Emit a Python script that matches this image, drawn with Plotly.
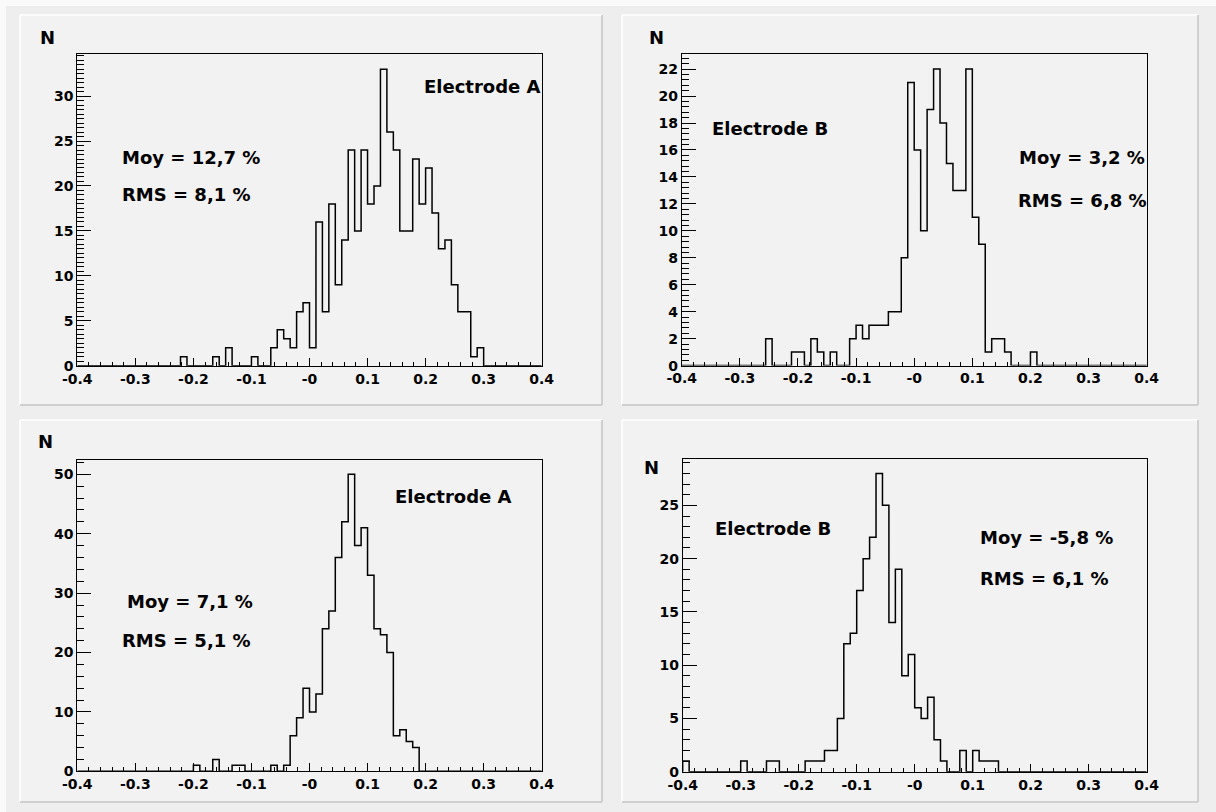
import plotly.graph_objects as go

# ---------------- data ----------------
X_MIN, X_MAX, N_BINS = -0.4, 0.4, 72

counts_top_a = [0, 0, 0, 0, 0, 0, 0, 0, 0, 0, 0, 0,
                0, 0, 0, 0, 1, 0, 0, 0, 0, 1, 0, 2,
                0, 0, 0, 1, 0, 0, 2, 4, 3, 2, 6, 7,
                2, 16, 6, 18, 9, 14, 24, 15, 24, 18, 20, 33,
                26, 24, 15, 15, 23, 18, 22, 17, 13, 14, 9, 6,
                6, 1, 2, 0, 0, 0, 0, 0, 0, 0, 0, 0]

counts_top_b = [0, 0, 0, 0, 0, 0, 0, 0, 0, 0, 0, 0,
                0, 2, 0, 0, 0, 1, 1, 0, 2, 1, 0, 1,
                0, 0, 2, 3, 2, 3, 3, 3, 4, 4, 8, 21,
                16, 10, 19, 22, 18, 15, 13, 13, 22, 11, 9, 1,
                2, 2, 1, 0, 0, 0, 1, 0, 0, 0, 0, 0,
                0, 0, 0, 0, 0, 0, 0, 0, 0, 0, 0, 0]

counts_bot_a = [0, 0, 0, 0, 0, 0, 0, 0, 0, 0, 0, 0,
                0, 0, 0, 0, 0, 0, 1, 0, 0, 2, 0, 0,
                1, 1, 0, 0, 0, 0, 1, 0, 1, 6, 9, 14,
                10, 13, 24, 27, 36, 42, 50, 38, 41, 33, 24, 23,
                20, 6, 7, 5, 4, 0, 0, 0, 0, 0, 0, 0,
                0, 0, 0, 0, 0, 0, 0, 0, 0, 0, 0, 0]

counts_bot_b = [1, 0, 0, 0, 0, 0, 0, 0, 0, 1, 0, 0,
                0, 1, 1, 0, 0, 0, 0, 1, 1, 1, 2, 2,
                5, 12, 13, 17, 20, 22, 28, 25, 14, 19, 9, 11,
                6, 5, 7, 3, 1, 0, 0, 2, 0, 2, 1, 1,
                1, 0, 0, 0, 0, 0, 0, 0, 0, 0, 0, 0,
                0, 0, 0, 0, 0, 0, 0, 0, 0, 0, 0, 0]

x_tick_vals = [-0.4, -0.3, -0.2, -0.1, 0.0, 0.1, 0.2, 0.3, 0.4]
x_tick_text = ["-0.4", "-0.3", "-0.2", "-0.1", "-0", "0.1", "0.2", "0.3", "0.4"]

titles = ["Electrode A", "Electrode B", "Electrode A", "Electrode B"]
moy_texts = ["Moy = 12,7 %", "Moy = 3,2 %", "Moy = 7,1 %", "Moy = -5,8 %"]
rms_texts = ["RMS = 8,1 %", "RMS = 6,8 %", "RMS = 5,1 %", "RMS = 6,1 %"]

# ---------------- layout helpers ----------------
W, H = 1216, 812
FONT = "DejaVu Sans"

def dx(px):
    return px / W

def dy(py):
    return 1 - py / H

panels = [
    dict(counts=counts_top_a, frame=(77.3, 54.3, 541.7, 365.7), ydtick=5, yminor=0.5,
         pad=(20, 15, 602, 405), n=(38, 37.5),
         title=(422, 86), moy=(120, 157), rms=(120, 194)),
    dict(counts=counts_top_b, frame=(681.7, 54.3, 1146.7, 365.6), ydtick=2, yminor=0.4,
         pad=(622, 15, 1198, 405), n=(647, 37.5),
         title=(710, 128), moy=(1017, 157), rms=(1016, 201)),
    dict(counts=counts_bot_a, frame=(77.3, 459.5, 541.7, 771.3), ydtick=10, yminor=2,
         pad=(20, 420, 602, 802), n=(36, 441),
         title=(393, 496.5), moy=(125, 601), rms=(120, 640)),
    dict(counts=counts_bot_b, frame=(682.7, 458.5, 1146.7, 771.7), ydtick=5, yminor=1,
         pad=(622, 420, 1198, 802), n=(642, 467),
         title=(713, 528), moy=(978, 537), rms=(978, 578)),
]

bw = (X_MAX - X_MIN) / N_BINS

fig = go.Figure()
shapes = []
annotations = []
layout_axes = {}

# canvas bevel
shapes.append(dict(type="rect", xref="paper", yref="paper", x0=0, y0=0, x1=1, y1=1,
                   fillcolor="#eeeeee", line=dict(width=0), layer="below"))
shapes.append(dict(type="line", xref="paper", yref="paper", x0=0, y0=dy(3), x1=1, y1=dy(3),
                   line=dict(color="#fafafa", width=6), layer="below"))
shapes.append(dict(type="line", xref="paper", yref="paper", x0=dx(3), y0=0, x1=dx(3), y1=1,
                   line=dict(color="#fafafa", width=6), layer="below"))

for i, p in enumerate(panels):
    idx = "" if i == 0 else str(i + 1)
    counts = p["counts"]
    edges = [X_MIN + k * bw for k in range(N_BINS + 1)]
    xs = [edges[0]] + edges + [edges[-1]]
    ys = [0] + list(counts) + [counts[-1]] + [0]
    fig.add_trace(go.Scatter(x=xs, y=ys, mode="lines", line=dict(color="black", width=1.5, shape="hv"),
                             xaxis="x" + idx, yaxis="y" + idx, showlegend=False, hoverinfo="skip"))

    ymax = max(counts) * 1.05
    fx0, fy0, fx1, fy1 = p["frame"]
    tickfont = dict(family=FONT, size=14, color="black", weight="bold")
    layout_axes["xaxis" + idx] = dict(
        domain=[dx(fx0), dx(fx1)], range=[X_MIN, X_MAX], anchor="y" + idx, automargin=False,
        tickmode="array", tickvals=x_tick_vals, ticktext=x_tick_text,
        ticks="inside", ticklen=8, tickwidth=1, tickcolor="black",
        minor=dict(tickmode="linear", tick0=X_MIN, dtick=0.02, ticks="inside", ticklen=4,
                   tickcolor="black", tickwidth=1, showgrid=False),
        showline=True, linecolor="black", linewidth=1, mirror=True,
        showgrid=False, zeroline=False, tickfont=tickfont, fixedrange=True)
    layout_axes["yaxis" + idx] = dict(
        domain=[dy(fy1), dy(fy0)], range=[0, ymax], anchor="x" + idx, automargin=False,
        tickmode="linear", tick0=0, dtick=p["ydtick"],
        ticks="inside", ticklen=14, tickwidth=1, tickcolor="black",
        minor=dict(tickmode="linear", tick0=0, dtick=p["yminor"], ticks="inside", ticklen=7,
                   tickcolor="black", tickwidth=1, showgrid=False),
        showline=True, linecolor="black", linewidth=1, mirror=True,
        showgrid=False, zeroline=False, tickfont=tickfont, fixedrange=True)

    # pad
    px0, py0, px1, py1 = p["pad"]
    shapes.append(dict(type="rect", xref="paper", yref="paper", x0=dx(px0), y0=dy(py1), x1=dx(px1), y1=dy(py0),
                       fillcolor="#f2f2f2", line=dict(width=0), layer="below"))
    shapes.append(dict(type="line", xref="paper", yref="paper", x0=dx(px0), y0=dy(py0), x1=dx(px1), y1=dy(py0),
                       line=dict(color="#ffffff", width=1.5), layer="below"))
    shapes.append(dict(type="line", xref="paper", yref="paper", x0=dx(px0), y0=dy(py0), x1=dx(px0), y1=dy(py1),
                       line=dict(color="#ffffff", width=1.5), layer="below"))
    shapes.append(dict(type="line", xref="paper", yref="paper", x0=dx(px0), y0=dy(py1), x1=dx(px1), y1=dy(py1),
                       line=dict(color="#c4c4c4", width=1.5), layer="below"))
    shapes.append(dict(type="line", xref="paper", yref="paper", x0=dx(px1), y0=dy(py0), x1=dx(px1), y1=dy(py1),
                       line=dict(color="#c4c4c4", width=1.5), layer="below"))

    def add_text(txt, pos, size):
        annotations.append(dict(text="<b>" + txt + "</b>", xref="paper", yref="paper",
                                x=dx(pos[0]), y=dy(pos[1]), xanchor="left", yanchor="middle",
                                showarrow=False, font=dict(family=FONT, size=size, color="black")))

    add_text("N", p["n"], 18)
    add_text(titles[i], p["title"], 18)
    add_text(moy_texts[i], p["moy"], 18)
    add_text(rms_texts[i], p["rms"], 18)

fig.update_layout(
    width=W, height=H, margin=dict(l=0, r=0, t=0, b=0, autoexpand=False),
    paper_bgcolor="#eeeeee", plot_bgcolor="rgba(0,0,0,0)",
    shapes=shapes, annotations=annotations, showlegend=False,
    font=dict(family=FONT, color="black"),
    **layout_axes,
)

fig.write_html("out.html", config={"displayModeBar": False},
               post_script="document.documentElement.style.margin='0';document.body.style.margin='0';"
                           "document.body.style.padding='0';document.body.style.overflow='hidden';")
